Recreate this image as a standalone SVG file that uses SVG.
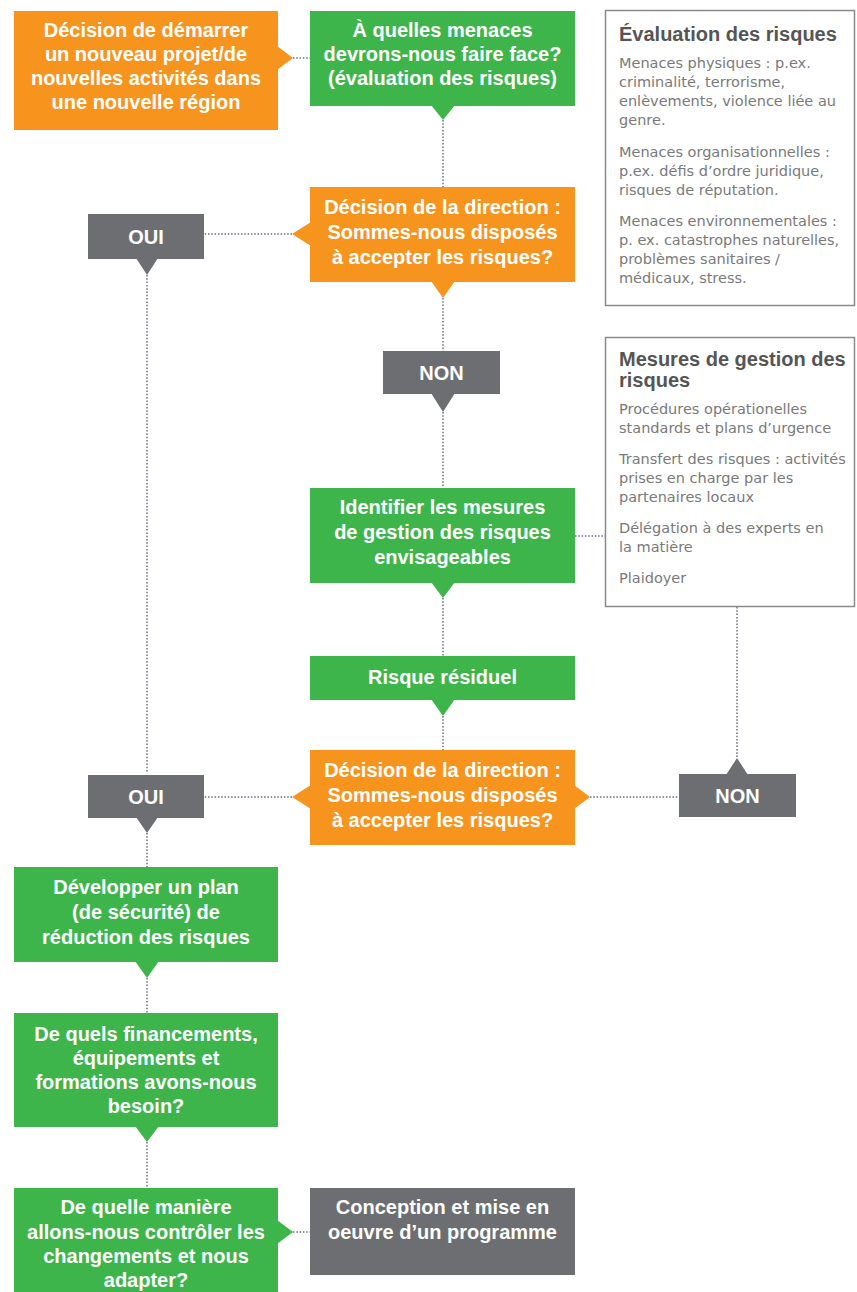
<svg xmlns="http://www.w3.org/2000/svg" width="857" height="1292" viewBox="0 0 857 1292">
<style>
.o{fill:#F7941D}.g{fill:#3DB54A}.k{fill:#6D6E71}
.t{font-family:"Liberation Sans",Arial,sans-serif;font-weight:bold;font-size:20px;fill:#fff;text-anchor:middle}
.side{fill:#fff;stroke:#8a8a8a;stroke-width:1.5}
.h{font-family:"Liberation Sans",Arial,sans-serif;font-weight:bold;font-size:20px;fill:#555}
.b{font-family:"DejaVu Sans",Verdana,sans-serif;font-size:14.5px;fill:#7a7a7a}
.c{fill:none;stroke:#8c92a3;stroke-width:2;stroke-dasharray:1.5 1.8}
</style>
<rect width="857" height="1292" fill="#fff"/>
<g id="connectors">
<path class="c" d="M293 58H310"/>
<path class="c" d="M443 120V187"/>
<path class="c" d="M292 234H204"/>
<path class="c" d="M147 275V773"/>
<path class="c" d="M443 298V351"/>
<path class="c" d="M443 412V488"/>
<path class="c" d="M575 536H605"/>
<path class="c" d="M443 598V656"/>
<path class="c" d="M443 716V750"/>
<path class="c" d="M292 797H204"/>
<path class="c" d="M590 797H679"/>
<path class="c" d="M737 607V758"/>
<path class="c" d="M147 833V867"/>
<path class="c" d="M147 978V1013"/>
<path class="c" d="M147 1142V1188"/>
<path class="c" d="M293 1232H310"/>
</g>
<g id="n1">
<rect class="o" x="14" y="11" width="264" height="119"/>
<polygon class="o" points="277,46 293,58 277,70"/>
<text class="t" x="146" y="37">Décision de démarrer</text>
<text class="t" x="146" y="61">un nouveau projet/de</text>
<text class="t" x="146" y="85">nouvelles activités dans</text>
<text class="t" x="146" y="109">une nouvelle région</text>
</g>
<g id="n2">
<rect class="g" x="310" y="11" width="265" height="95"/>
<polygon class="g" points="431,105 443,120 455,105"/>
<text class="t" x="442.5" y="37">À quelles menaces</text>
<text class="t" x="442.5" y="61">devrons-nous faire face?</text>
<text class="t" x="442.5" y="85">(évaluation des risques)</text>
</g>
<g id="n3">
<rect class="o" x="310" y="187" width="265" height="95"/>
<polygon class="o" points="311,222 292,234 311,246"/>
<polygon class="o" points="431,281 443,298 455,281"/>
<text class="t" x="442.5" y="214">Décision de la direction :</text>
<text class="t" x="442.5" y="239">Sommes-nous disposés</text>
<text class="t" x="442.5" y="264">à accepter les risques?</text>
</g>
<g id="oui1">
<rect class="k" x="88" y="214" width="116" height="45"/>
<polygon class="k" points="136,258 147,275 158,258"/>
<text class="t" x="146" y="244">OUI</text>
</g>
<g id="non1">
<rect class="k" x="383" y="351" width="117" height="43"/>
<polygon class="k" points="431,393 443,412 455,393"/>
<text class="t" x="441.5" y="380">NON</text>
</g>
<g id="n4">
<rect class="g" x="310" y="488" width="265" height="95"/>
<polygon class="g" points="431,582 443,598 455,582"/>
<text class="t" x="442.5" y="514">Identifier les mesures</text>
<text class="t" x="442.5" y="539">de gestion des risques</text>
<text class="t" x="442.5" y="564">envisageables</text>
</g>
<g id="n5">
<rect class="g" x="310" y="656" width="265" height="44"/>
<polygon class="g" points="431,699 443,716 455,699"/>
<text class="t" x="442.5" y="684">Risque résiduel</text>
</g>
<g id="n6">
<rect class="o" x="310" y="750" width="265" height="95"/>
<polygon class="o" points="311,785 292,797 311,809"/>
<polygon class="o" points="574,785 590,797 574,809"/>
<text class="t" x="442.5" y="777">Décision de la direction :</text>
<text class="t" x="442.5" y="802">Sommes-nous disposés</text>
<text class="t" x="442.5" y="827">à accepter les risques?</text>
</g>
<g id="oui2">
<rect class="k" x="88" y="775" width="116" height="43"/>
<polygon class="k" points="136,817 147,833 158,817"/>
<text class="t" x="146" y="804">OUI</text>
</g>
<g id="non2">
<rect class="k" x="679" y="774" width="117" height="43"/>
<polygon class="k" points="726,775 737,758 748,775"/>
<text class="t" x="737.5" y="803">NON</text>
</g>
<g id="n7">
<rect class="g" x="14" y="867" width="264" height="95"/>
<polygon class="g" points="135,961 147,978 159,961"/>
<text class="t" x="146" y="894">Développer un plan</text>
<text class="t" x="146" y="919">(de sécurité) de</text>
<text class="t" x="146" y="944">réduction des risques</text>
</g>
<g id="n8">
<rect class="g" x="14" y="1013" width="264" height="114"/>
<polygon class="g" points="135,1126 147,1142 159,1126"/>
<text class="t" x="146" y="1041">De quels financements,</text>
<text class="t" x="146" y="1065">équipements et</text>
<text class="t" x="146" y="1089">formations avons-nous</text>
<text class="t" x="146" y="1113">besoin?</text>
</g>
<g id="n9">
<rect class="g" x="14" y="1188" width="264" height="104"/>
<polygon class="g" points="277,1220 293,1232 277,1244"/>
<text class="t" x="146" y="1214">De quelle manière</text>
<text class="t" x="146" y="1239">allons-nous contrôler les</text>
<text class="t" x="146" y="1263">changements et nous</text>
<text class="t" x="146" y="1287">adapter?</text>
</g>
<g id="n10">
<rect class="k" x="310" y="1188" width="265" height="87"/>
<text class="t" x="442.5" y="1214">Conception et mise en</text>
<text class="t" x="442.5" y="1239">oeuvre d’un programme</text>
</g>
<g id="side1">
<rect class="side" x="605.5" y="10.5" width="249" height="295"/>
<text class="h" x="619" y="41">Évaluation des risques</text>
<text class="b" x="619" y="68">Menaces physiques : p.ex.</text>
<text class="b" x="619" y="87">criminalité, terrorisme,</text>
<text class="b" x="619" y="106">enlèvements, violence liée au</text>
<text class="b" x="619" y="125">genre.</text>
<text class="b" x="619" y="157">Menaces organisationnelles :</text>
<text class="b" x="619" y="176">p.ex. défis d’ordre juridique,</text>
<text class="b" x="619" y="195">risques de réputation.</text>
<text class="b" x="619" y="226">Menaces environnementales :</text>
<text class="b" x="619" y="245">p. ex. catastrophes naturelles,</text>
<text class="b" x="619" y="264">problèmes sanitaires /</text>
<text class="b" x="619" y="283">médicaux, stress.</text>
</g>
<g id="side2">
<rect class="side" x="605.5" y="337.5" width="249" height="269"/>
<text class="h" x="619" y="366">Mesures de gestion des</text>
<text class="h" x="619" y="387">risques</text>
<text class="b" x="619" y="414">Procédures opérationelles</text>
<text class="b" x="619" y="433">standards et plans d’urgence</text>
<text class="b" x="619" y="464">Transfert des risques : activités</text>
<text class="b" x="619" y="483">prises en charge par les</text>
<text class="b" x="619" y="502">partenaires locaux</text>
<text class="b" x="619" y="533">Délégation à des experts en</text>
<text class="b" x="619" y="552">la matière</text>
<text class="b" x="619" y="583">Plaidoyer</text>
</g>
</svg>
